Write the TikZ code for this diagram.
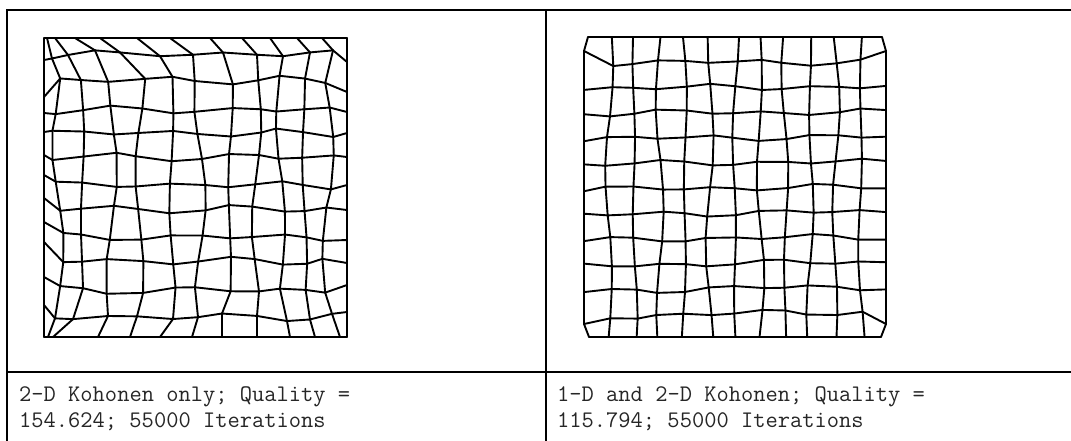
\documentclass[tikz,border=0pt]{standalone}
\usepackage{fontspec}
\usepackage{tikz}

% node positions of the 2-D only map (pixels)
\def\LcolX{{44,58,82,112,140,172,200,230,257,281,304,328,347}}
\def\LrowY{{38,54,80,110,133,157,185,209,237,261,290,317,337}}
\def\LtopX{{44,47,55,75,100,137,170,210,242,270,297,322,347}}
\def\LoneX{{44,52,68,95,120,160,193,223,257,283,310,333,347}}
\def\LelevX{{44,55,73,108,137,173,198,222,257,287,310,332,347}}
\def\LbotX{{44,48,53,98,130,160,192,222,257,290,315,340,347}}
\def\LleftY{{38,60,97,113,132,155,175,198,222,242,277,305,337}}
\def\LrightY{{38,62,92,112,133,157,185,210,240,263,285,312,337}}

\begin{document}
\begin{tikzpicture}[
  x=1pt, y=-1pt,
  rule/.style={line width=2pt, draw=black},
  mesh/.style={line width=1.9pt, draw=black, line cap=round, line join=round},
  caption/.style={anchor=base west, inner sep=0pt, text=black!85,
                  font=\ttfamily\fontsize{23.8}{26}\selectfont},
]
\useasboundingbox (0,0) rectangle (1071,440);

% Table
\draw[rule] (7,445) -- (7,9.5) -- (1080,9.5);
\draw[rule] (546,9.5) -- (546,445);
\draw[rule] (7,372) -- (1080,372);

% 2-D Kohonen only
\foreach \i in {0,...,12}{
  \foreach \j in {0,...,12}{
    \pgfmathsetmacro\cx{\LcolX[\i]}
    \pgfmathsetmacro\ry{\LrowY[\j]}
    \pgfmathsetmacro\tx{\LtopX[\i]}
    \pgfmathsetmacro\ox{\LoneX[\i]}
    \pgfmathsetmacro\ex{\LelevX[\i]}
    \pgfmathsetmacro\bx{\LbotX[\i]}
    \pgfmathsetmacro\ly{\LleftY[\j]}
    \pgfmathsetmacro\rry{\LrightY[\j]}
    \pgfmathsetmacro\jx{3.5*sin(127.1*\i+311.7*\j)+2.5*sin(40*\j+90*\i)}
    \pgfmathsetmacro\jy{3*sin(269.5*\i+183.3*\j)+1.5*sin(61*\i+23*\j)}
    \pgfmathsetmacro\x{\i==0 ? 44 : (\i==12 ? 347 : (\j==0 ? \tx : (\j==12 ? \bx : (\j==1 ? \ox : (\j==11 ? \ex : \cx+\jx)))))}
    \pgfmathsetmacro\y{\j==0 ? 38 : (\j==12 ? 337 : (\i==0 ? \ly : (\i==12 ? \rry : \ry+\jy)))}
    \coordinate (L-\i-\j) at (\x,\y);
  }
}
\foreach \i in {0,...,12}{
  \foreach \j in {0,...,11}{
    \pgfmathtruncatemacro\jj{\j+1}
    \draw[mesh] (L-\i-\j) -- (L-\i-\jj);
    \draw[mesh] (L-\j-\i) -- (L-\jj-\i);
  }
}

% 1-D and 2-D Kohonen
\foreach \i in {0,...,12}{
  \foreach \j in {0,...,12}{
    \pgfmathsetmacro\jx{2.5*sin(127.1*\i+311.7*\j+30)+1.8*sin(33*\j+71*\i)}
    \pgfmathsetmacro\jy{2.2*sin(269.5*\i+183.3*\j+10)+1.5*sin(47*\i+29*\j)+6*(1-\i/12)^2*(\j/12)}
    \pgfmathsetmacro\x{\i==0 ? 584 : (\i==12 ? 886 : 584+302*\i/12+\jx)}
    \pgfmathsetmacro\y{\j==0 ? 37 : (\j==12 ? 337 : (\j==1 && (\i==0 || \i==12) ? 51 : (\j==11 && (\i==0 || \i==12) ? 324 : 37+25*\j+\jy)))}
    \coordinate (R-\i-\j) at (\x,\y);
  }
}
\coordinate (R-0-0) at (588,37);
\coordinate (R-12-0) at (882,37);
\coordinate (R-0-12) at (589,337);
\coordinate (R-12-12) at (881,337);
\foreach \i in {0,...,12}{
  \foreach \j in {0,...,11}{
    \pgfmathtruncatemacro\jj{\j+1}
    \draw[mesh] (R-\i-\j) -- (R-\i-\jj);
    \draw[mesh] (R-\j-\i) -- (R-\jj-\i);
  }
}

% Captions
\node[caption] (capLa) at (19,401) {2-D Kohonen only; Quality =};
\node[caption] (capLb) at (19,427) {154.624; 55000 Iterations};
\node[caption] (capRa) at (557,401) {1-D and 2-D Kohonen; Quality =};
\node[caption] (capRb) at (557,427) {115.794; 55000 Iterations};

\end{tikzpicture}
\end{document}
